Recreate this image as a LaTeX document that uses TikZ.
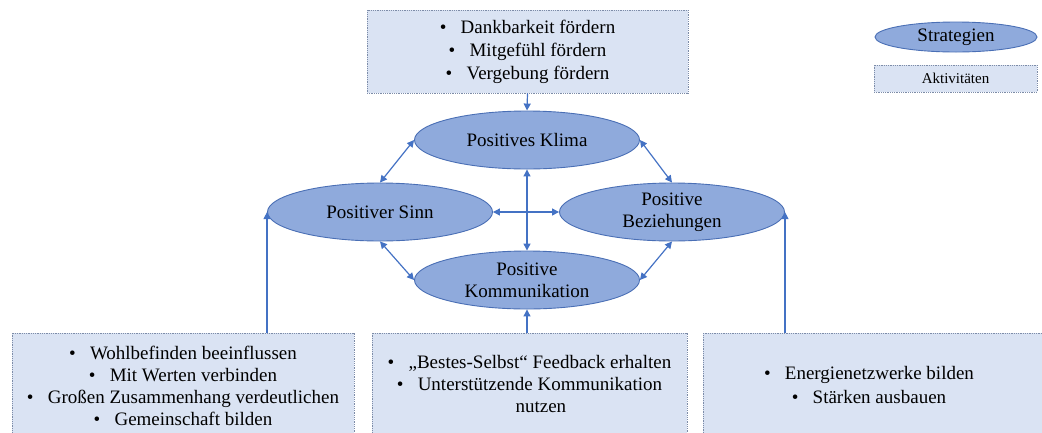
\documentclass[tikz,border=0pt]{standalone}
\usepackage{fontspec}
\setmainfont{Liberation Serif}
\usetikzlibrary{shapes.geometric,arrows.meta}
\definecolor{ellfill}{HTML}{8FAADC}
\definecolor{elldraw}{HTML}{4A6FB5}
\definecolor{boxfill}{HTML}{DAE3F3}
\definecolor{boxdraw}{HTML}{7D8CA8}
\definecolor{arrcol}{HTML}{4472C4}
\newcommand{\bul}{\textbullet\hspace{0.75em}}
\tikzset{
  strat/.style={ellipse, draw=elldraw, fill=ellfill, line width=0.9pt, inner sep=0pt,
    minimum width=225pt, minimum height=58pt, align=center,
    font=\fontsize{19}{22}\selectfont},
  akt/.style={rectangle, draw=boxdraw, fill=boxfill, densely dotted, line width=0.8pt,
    inner sep=0pt, align=center, font=\fontsize{19}{22}\selectfont},
  arr/.style={draw=arrcol, line width=1.2pt, -{Triangle[length=7pt,width=7pt]}},
  darr/.style={draw=arrcol, line width=1.2pt, {Triangle[length=7pt,width=7pt]}-{Triangle[length=7pt,width=7pt]}},
  txt/.style={inner sep=0pt, align=center, font=\fontsize{19}{22}\selectfont}
}
\begin{document}
\begin{tikzpicture}[x=1pt,y=-1pt]
\clip (0,0) rectangle (1042,432);
% top activity box
\node[akt, minimum width=321pt, minimum height=83pt] (top) at (527.5,51.5) {};
\node[txt, font=\fontsize{19}{23}\selectfont] (toptxt) at (527.5,52) {\bul Dankbarkeit fördern\\ \bul Mitgefühl fördern\\ \bul Vergebung fördern};
% strategies
\node[strat] (klima) at (527,140) {Positives Klima};
\node[strat] (sinn) at (380,212) {Positiver Sinn};
\node[strat] (bez) at (672,212) {Positive\\Beziehungen};
\node[strat] (komm) at (527,280) {Positive\\Kommunikation};
% bottom activity boxes
\node[akt, minimum width=342pt, minimum height=110pt] (lbox) at (183,388) {};
\node[txt] (ltxt) at (183,386) {\bul Wohlbefinden beeinflussen\\ \bul Mit Werten verbinden\\ \bul Großen Zusammenhang verdeutlichen\\ \bul Gemeinschaft bilden};
\node[akt, minimum width=315pt, minimum height=110pt] (mbox) at (529.5,388) {};
\node[txt] (mtxt) at (529.5,384) {\bul „Bestes-Selbst“ Feedback erhalten\\ \bul Unterstützende Kommunikation\\ \hspace{1.2em}nutzen};
\node[akt, minimum width=360pt, minimum height=110pt, anchor=north west] (rbox) at (703,333) {};
\node[txt, font=\fontsize{19}{24}\selectfont] (rtxt) at (869,385) {\bul Energienetzwerke bilden\\ \bul Stärken ausbauen};
% legend
\node[strat, minimum width=162pt, minimum height=30pt] (leg1) at (956,37) {Strategien};
\node[akt, minimum width=163pt, minimum height=27pt, font=\fontsize{15}{18}\selectfont] (leg2) at (955.5,78.5) {Aktivitäten};
% connectors
\draw[arr] (top.south) -- (klima.north);
\draw[darr] (klima.west) -- (sinn.north);
\draw[darr] (klima.east) -- (bez.north);
\draw[darr] (sinn.south) -- (komm.west);
\draw[darr] (bez.south) -- (komm.east);
\draw[darr] (klima.south) -- (komm.north);
\draw[darr] (sinn.east) -- (bez.west);
\draw[arr] (sinn.west |- lbox.north) -- (sinn.west);
\draw[arr] (komm.south |- mbox.north) -- (komm.south);
\draw[arr] (bez.east |- rbox.north) -- (bez.east);
\end{tikzpicture}
\end{document}
